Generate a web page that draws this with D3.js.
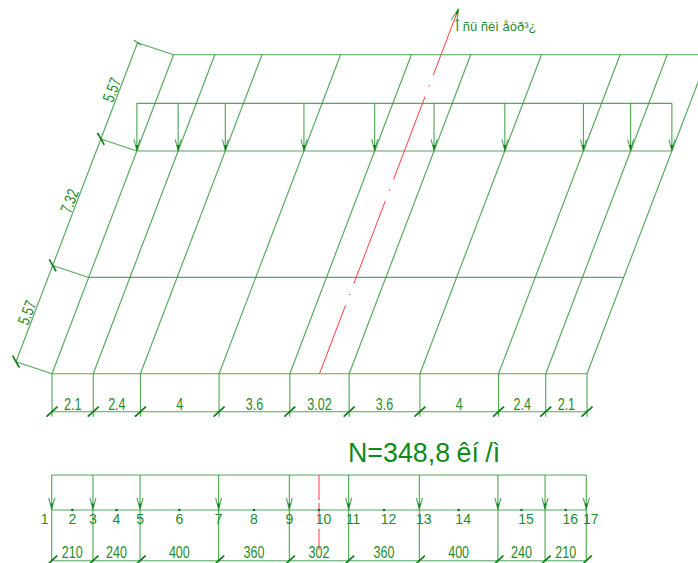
<!DOCTYPE html>
<html>
<head>
<meta charset="utf-8">
<script src="https://cdn.jsdelivr.net/npm/d3@7"></script>
<style>
  html, body { margin: 0; padding: 0; background: #fff; }
  svg { display: block; }
  text { fill: #1f8c2a; }
  .narrow { font-family: "Liberation Sans", sans-serif; font-size: 16.5px; text-anchor: middle; }
</style>
</head>
<body>
<div id="chart"></div>
<script>
// spans between frames, m
const spans = [2.1, 2.4, 4, 3.6, 3.02, 3.6, 4, 2.4, 2.1];
const spanLabels = ['2.1', '2.4', '4', '3.6', '3.02', '3.6', '4', '2.4', '2.1'];
// same spans in the load diagram, cm
const loadLabels = ['210', '240', '400', '360', '302', '360', '400', '240', '210'];
// slab strips across the span, m
const strips = [5.57, 7.32, 5.57];
const stripLabels = ['5.57', '7.32', '5.57'];
// nodes of the beam
const nodeLabels = ['1', '2', '3', '4', '5', '6', '7', '8', '9', '10', '11', '12', '13', '14', '15', '16', '17'];
const nodeStations = [0, 1.05, 2.1, 3.3, 4.5, 6.5, 8.5, 10.3, 12.1, 13.61, 15.12, 16.92, 18.72, 20.72, 23.92, 26.17, 27.22];
const symmetryStation = 13.61;
const axisLabel = 'Î ñü ñèì åòð³¿';
const loadLabel = 'N=348,8 êí /ì';

const GREEN = '#2a9434';
const DARK = '#0b7d16';
const RED = '#ff3a45';
const width = 698, height = 563;

const frames = [0];
spans.forEach(d => frames.push(+(frames[frames.length - 1] + d).toFixed(2)));
const rows = [0];
strips.forEach(d => rows.push(+(rows[rows.length - 1] + d).toFixed(2)));
const total = frames[frames.length - 1];
const depth = rows[rows.length - 1];

const svg = d3.select('#chart').append('svg').attr('width', width).attr('height', height);

const x = d3.scaleLinear().domain([0, total]).range([52, 587]);
const xLoad = d3.scaleLinear().domain([0, total]).range([51.7, 586.3]);
const y = d3.scaleLinear().domain([0, depth]).range([373.7, 54.7]);

// plan is skewed, so every point slides to the right as it goes up
const skew = 0.381;
const planX = (s, r) => x(s) + (y(0) - y(r)) * skew;

const line = (g, x1, y1, x2, y2, color = GREEN, w = 1.15, op = 0.8) =>
  g.append('line').attr('x1', x1).attr('y1', y1).attr('x2', x2).attr('y2', y2)
    .attr('stroke', color).attr('stroke-width', w).attr('opacity', op);

// open arrow head with a dark wedge near the tip
function arrowHead(g, tx, ty, angle = 0, size = 11) {
  const head = g.append('g').attr('transform', `translate(${tx},${ty}) rotate(${angle})`);
  line(head, 0, 0, -3, -size);
  line(head, 0, 0, 3, -size);
  head.append('path').attr('d', 'M-1.3,-5.5L0,0L1.3,-5.5Z').attr('fill', DARK);
}

const tick = (g, cx, cy, w = 1.7) => line(g, cx - 5.5, cy + 5, cx + 5.5, cy - 5, DARK, w, 1);

// squeezed text, there is no narrow face to use
const narrow = (sel, place, rot = 0) => sel
  .attr('class', 'narrow')
  .attr('transform', (d, i) => {
    const p = place(d, i);
    return `translate(${p[0]},${p[1]}) rotate(${rot}) scale(0.76,1)`;
  })
  .text(d => d);

// ---- plan ----
const plan = svg.append('g');

// top row runs off the page by itself
rows.forEach(r => line(plan, planX(0, r), y(r), planX(total, r), y(r)));
plan.selectAll('.frame').data(frames).join('line')
  .attr('class', 'frame')
  .attr('x1', d => planX(d, 0)).attr('y1', y(0))
  .attr('x2', d => planX(d, depth)).attr('y2', y(depth))
  .attr('stroke', GREEN).attr('stroke-width', 1.15).attr('opacity', 0.8);

// symmetry axis, runs past the slab
const axisTop = 21.05;
plan.append('line')
  .attr('x1', planX(symmetryStation, 0)).attr('y1', y(0))
  .attr('x2', planX(symmetryStation, axisTop)).attr('y2', y(axisTop))
  .attr('stroke', RED).attr('stroke-width', 1)
  .attr('stroke-dasharray', '88.7 10.7 1.5 10.7')
  .attr('stroke-dashoffset', 15.3);
arrowHead(plan, planX(symmetryStation, axisTop) + 0.5, y(axisTop) - 1, 200.9, 13);
plan.append('text').attr('x', 455.5).attr('y', 31)
  .attr('font-family', '"Liberation Sans", sans-serif').attr('font-size', 13)
  .attr('xml:space', 'preserve')
  .text(axisLabel);

// load frame over the top strip
const loadRow = depth - strips[2];
const frameTop = 103.3;
line(plan, planX(0, loadRow), frameTop, planX(total, loadRow), frameTop);
frames.forEach(d => {
  const fx = planX(d, loadRow);
  line(plan, fx, frameTop, fx, y(loadRow));
  arrowHead(plan, fx, y(loadRow) - 0.5);
});

// left dimension chain, offset from the slab edge
const dimDx = -36, dimDy = -12;
line(plan, planX(0, 0) + dimDx, y(0) + dimDy, planX(0, depth) + dimDx, y(depth) + dimDy);
rows.forEach((r, i) => {
  const ex = planX(0, r), ey = y(r);
  line(plan, ex, ey, ex + dimDx, ey + dimDy);
  const top = i === rows.length - 1;
  line(plan, ex + dimDx - 3.4, ey + dimDy - (top ? 2.5 : 6),
       ex + dimDx + 3.4, ey + dimDy + (top ? 2.5 : 6), DARK, top ? 1 : 1.7, 1);
});
narrow(plan.selectAll('.strip-label').data(stripLabels).join('text'), (d, i) => {
  const mid = (rows[i] + rows[i + 1]) / 2;
  return [planX(0, mid) + dimDx - 2, y(mid) + dimDy + 1];
}, -69);

// span dimensions under the plan
const dimY = 411.7;
line(plan, x(0), dimY, x(total), dimY);
frames.forEach(d => {
  line(plan, x(d), y(0), x(d), dimY + 5);
  tick(plan, x(d), dimY);
});
narrow(plan.selectAll('.span-label').data(spanLabels).join('text'),
  (d, i) => [(x(frames[i]) + x(frames[i + 1])) / 2, dimY - 1.5]);

// ---- load diagram ----
const diagram = svg.append('g');
const topY = 475, beamY = 510, baseY = 560.7;

diagram.append('text').attr('x', 348).attr('y', 461.5)
  .attr('font-family', '"Liberation Sans", sans-serif').attr('font-size', 26.8)
  .attr('word-spacing', -1)
  .style('fill', '#0f8a1a')
  .attr('xml:space', 'preserve')
  .text(loadLabel);

line(diagram, xLoad(0), topY, xLoad(total), topY);
line(diagram, xLoad(0), beamY, xLoad(total), beamY);
line(diagram, xLoad(0), baseY, xLoad(total), baseY);

frames.forEach(d => {
  line(diagram, xLoad(d), topY, xLoad(d), baseY);
  arrowHead(diagram, xLoad(d), beamY - 1);
  tick(diagram, xLoad(d), baseY);
});

// symmetry line, broken in three pieces
diagram.append('line')
  .attr('x1', xLoad(symmetryStation)).attr('y1', topY)
  .attr('x2', xLoad(symmetryStation)).attr('y2', baseY - 10)
  .attr('stroke', RED).attr('stroke-dasharray', '25 3 21 5 21');

diagram.selectAll('.dot').data(frames.slice(1).map((d, i) => (d + frames[i]) / 2)).join('circle')
  .attr('class', 'dot')
  .attr('cx', d => xLoad(d)).attr('cy', beamY).attr('r', 1.3)
  .attr('fill', '#0b6b3a');

diagram.selectAll('.node-label').data(nodeLabels).join('text')
  .attr('class', 'node-label')
  .attr('x', (d, i) => xLoad(nodeStations[i]) + (i === 0 ? -7 : i >= 9 ? 4.5 : 0))
  .attr('y', 523.5)
  .attr('text-anchor', 'middle')
  .attr('font-family', '"Liberation Sans", sans-serif').attr('font-size', 14)
  .text(d => d);

narrow(diagram.selectAll('.load-label').data(loadLabels).join('text'),
  (d, i) => [(xLoad(frames[i]) + xLoad(frames[i + 1])) / 2, 558]);
</script>
</body>
</html>
